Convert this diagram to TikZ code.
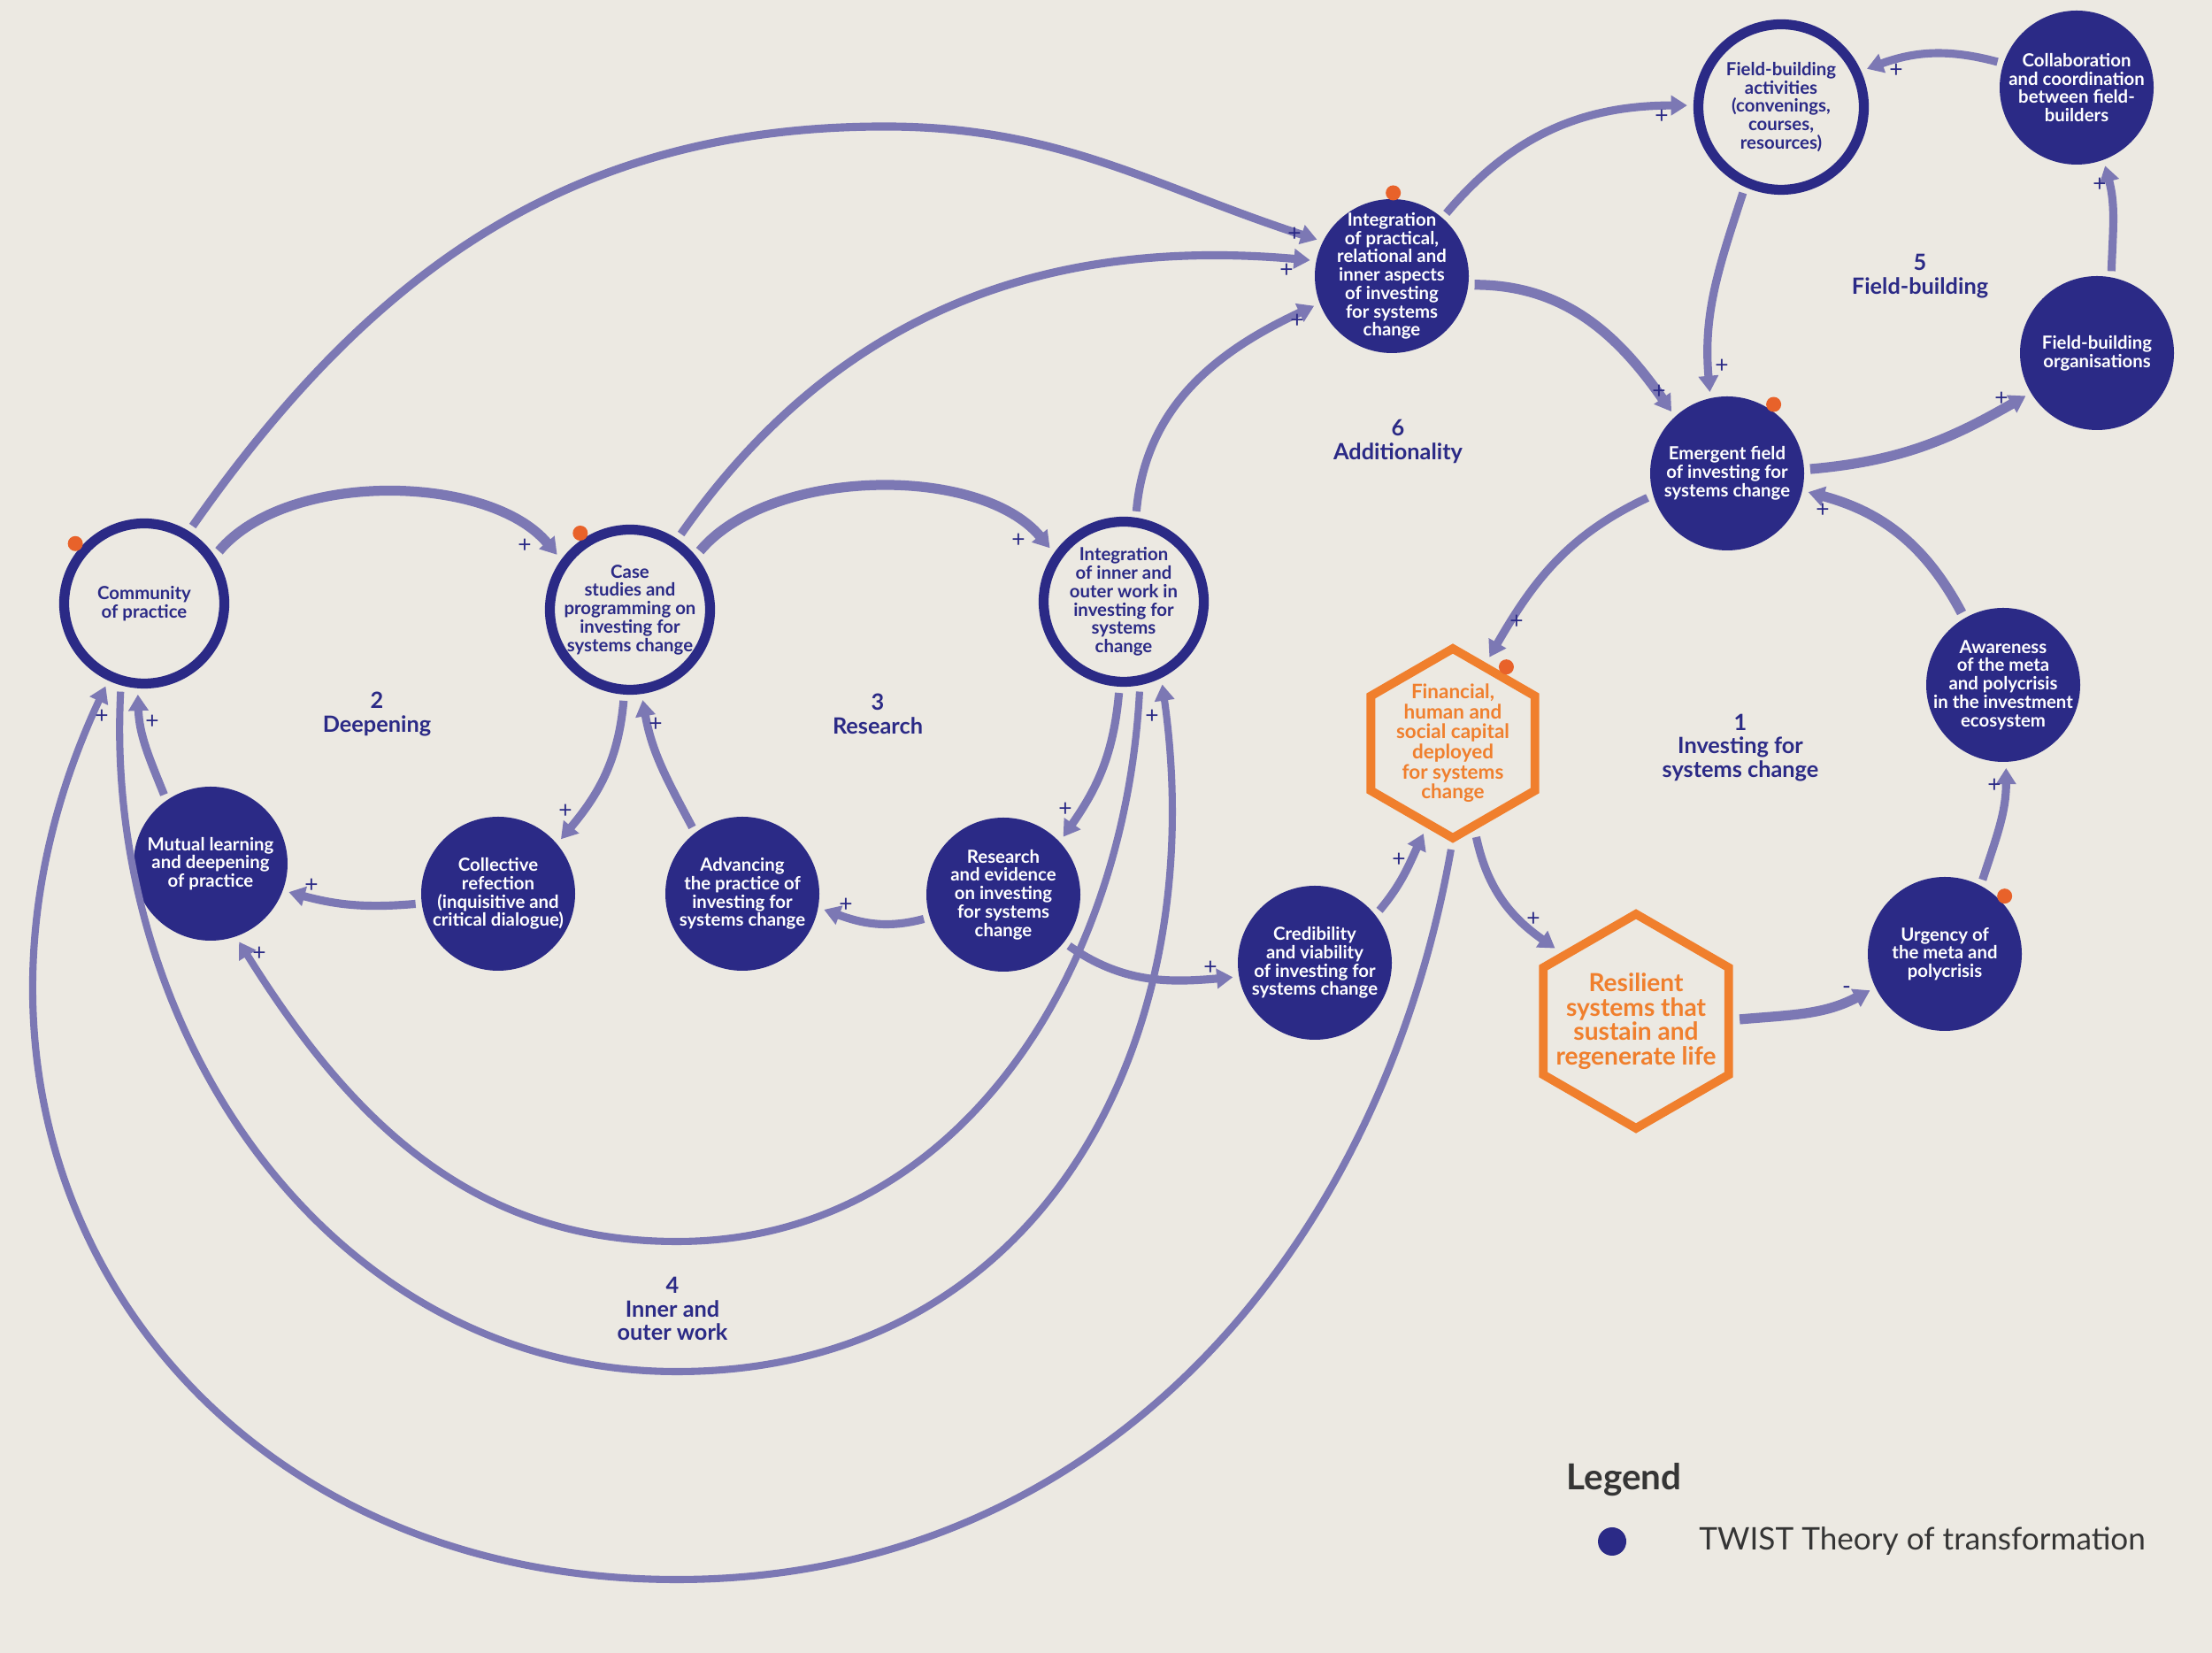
\documentclass[tikz,border=0pt]{standalone}
\usepackage{fontspec}
\setmainfont{Lato}
\usetikzlibrary{arrows.meta,shapes.geometric}
\definecolor{paper}{HTML}{ECE9E2}
\definecolor{navy}{HTML}{2B2A86}
\definecolor{link}{HTML}{7C78B4}
\definecolor{hexorange}{HTML}{F07F2D}
\definecolor{dotorange}{HTML}{E8622A}
\definecolor{legendgrey}{HTML}{353535}
\tikzset{
  ring/.style={circle, draw=navy, line width=3.2pt, fill=paper,
    minimum size=1.81cm, inner sep=0pt, outer sep=3.6pt},
  bubble/.style={circle, fill=navy, minimum size=1.74cm, inner sep=0pt, outer sep=2pt},
  hexnode/.style={regular polygon, regular polygon sides=6, shape border rotate=30,
    draw=hexorange, line width=2.8pt, inner sep=0pt, outer sep=3.5pt},
  ringtext/.style={align=center, text=navy, inner sep=0pt,
    font=\bfseries\fontsize{5.8}{5.9}\selectfont},
  bubbletext/.style={ringtext, text=white},
  hextext/.style={align=center, text=hexorange, inner sep=0pt,
    font=\bfseries\fontsize{6.4}{6.45}\selectfont},
  looplabel/.style={align=center, text=navy, font=\bfseries\fontsize{7.2}{7.6}\selectfont},
  sign/.style={text=navy, inner sep=0pt, font=\fontsize{7.5}{7.5}\selectfont},
  odot/.style={circle, fill=dotorange, minimum size=0.17cm, inner sep=0pt},
  arr/.style={-{Triangle[width=6.2pt,length=5.2pt]}, line width=2.6pt, draw=link},
  widearr/.style={arr, line width=3.2pt},
  looparr/.style={arr, line width=2.3pt}
}
\begin{document}
\begin{tikzpicture}
  \fill[paper] (0,0) rectangle (25,18.68);
  \useasboundingbox (0,0) rectangle (25,18.68);

  % nodes
  \node[ring] (comm) at (1.63,11.86) {};
  \node[ring] (case) at (7.12,11.79) {};
  \node[ring] (inner) at (12.70,11.88) {};
  \node[ring, minimum size=1.87cm] (fieldact) at (20.13,17.47) {};
  \node[bubble] (practical) at (15.73,15.56) {};
  \node[bubble] (collab) at (23.47,17.69) {};
  \node[bubble] (fborg) at (23.70,14.69) {};
  \node[bubble] (emerg) at (19.52,13.33) {};
  \node[bubble] (aware) at (22.64,10.94) {};
  \node[bubble] (urgency) at (21.98,7.90) {};
  \node[bubble] (cred) at (14.86,7.80) {};
  \node[bubble] (research) at (11.34,8.57) {};
  \node[bubble] (advancing) at (8.39,8.58) {};
  \node[bubble] (collective) at (5.63,8.58) {};
  \node[bubble] (mutual) at (2.38,8.92) {};
  \node[hexnode, minimum size=2.14cm] (fin) at (16.42,10.28) {};
  \node[hexnode, minimum size=2.42cm] (resil) at (18.49,7.14) {};

  % texts
  \node[ringtext] (commtext) at (comm) {Community\\of practice};
  \node[ringtext] (casetext) at (case) {Case\\studies and\\programming on\\investing for\\systems change};
  \node[ringtext] (innertext) at (inner) {Integration\\of inner and\\outer work in\\investing for\\systems\\change};
  \node[ringtext] (fieldacttext) at (fieldact) {Field-building\\activities\\(convenings,\\courses,\\resources)};
  \node[bubbletext] (practicaltext) at (practical) {Integration\\of practical,\\relational and\\inner aspects\\of investing\\for systems\\change};
  \node[bubbletext] (collabtext) at (collab) {Collaboration\\and coordination\\between field-\\builders};
  \node[bubbletext] (fborgtext) at (fborg) {Field-building\\organisations};
  \node[bubbletext] (emergtext) at (emerg) {Emergent field\\of investing for\\systems change};
  \node[bubbletext] (awaretext) at (aware) {Awareness\\of the meta\\and polycrisis\\in the investment\\ecosystem};
  \node[bubbletext] (urgencytext) at (urgency) {Urgency of\\the meta and\\polycrisis};
  \node[bubbletext] (credtext) at (cred) {Credibility\\and viability\\of investing for\\systems change};
  \node[bubbletext] (researchtext) at (research) {Research\\and evidence\\on investing\\for systems\\change};
  \node[bubbletext] (advancingtext) at (advancing) {Advancing\\the practice of\\investing for\\systems change};
  \node[bubbletext] (collectivetext) at (collective) {Collective\\refection\\(inquisitive and\\critical dialogue)};
  \node[bubbletext] (mutualtext) at (mutual) {Mutual learning\\and deepening\\of practice};
  \node[hextext] (fintext) at (fin) {Financial,\\human and\\social capital\\deployed\\for systems\\change};
  \node[hextext, font=\bfseries\fontsize{8}{7.8}\selectfont] (resiltext) at (resil) {Resilient\\systems that\\sustain and\\regenerate life};

  % orange markers
  \node[odot] (dotcomm) at (comm.139) {};
  \node[odot] (dotcase) at (case.123) {};
  \node[odot] (dotpractical) at (practical.89) {};
  \node[odot] (dotemerg) at (emerg.56) {};
  \node[odot] (dotfin) at (fin.55) {};
  \node[odot] (doturgency) at (urgency.44) {};

  % connectors
  \coordinate (arctop) at (10.00,17.25);
  \draw[widearr] (comm.35) to[out=50, in=130, looseness=0.8] (case.143);
  \draw[arr] (comm.58) to[out=55, in=180] (arctop) to[out=0, in=162] (practical.154);
  \draw[arr] (case.56) to[out=55, in=175] (practical.169);
  \draw[widearr] (case.40) to[out=50, in=130, looseness=0.8] (inner.144);
  \draw[arr] (inner.82) to[out=85, in=205] (practical.201);
  \draw[arr] (practical.49) to[out=50, in=180] (fieldact.179);
  \draw[widearr] (practical.-6) to[out=0, in=125] (emerg.132);
  \draw[arr] (fieldact.246) to[out=-108, in=95] (emerg.102);
  \draw[arr] (collab.162) to[out=165, in=20] (fieldact.24);
  \draw[arr] (fborg.80) to[out=88, in=-75] (collab.-70);
  \draw[widearr] (emerg.3) to[out=5, in=210] (fborg.211);
  \draw[arr] (emerg.197) to[out=205, in=60] (fin.67);
  \draw[widearr] (aware.120) to[out=118, in=-15] (emerg.-13);
  \draw[arr] (urgency.63) to[out=72, in=-90] (aware.-88);
  \draw[widearr] (resil.1) to[out=5, in=208] (urgency.206);
  \draw[arr] (fin.-76) to[out=-78, in=145] (resil.138);
  \draw[arr] (cred.39) to[out=50, in=-115] (fin.-108);
  \draw[arr] (research.-38) to[out=-35, in=185] (cred.190);
  \draw[arr] (research.197) to[out=195, in=-20] (advancing.-11);
  \draw[arr] (advancing.127) to[out=118, in=-80] (case.-82);
  \draw[arr] (case.-94) to[out=-95, in=50] (collective.41);
  \draw[arr] (collective.187) to[out=185, in=-15] (mutual.-20);
  \draw[arr] (mutual.124) to[out=112, in=-88] (comm.-94);
  \draw[arr] (inner.-93) to[out=-95, in=55] (research.44);

  % loop 4, inner and outer work
  \coordinate (innerlow) at (7.65,4.65);
  \coordinate (midlow) at (7.65,3.18);
  \coordinate (outerlow) at (7.65,0.83);
  \draw[looparr] (inner.-80) to[out=-93, in=0] (innerlow) to[out=180, in=-58] (mutual.-70);
  \draw[looparr] (comm.-105) to[out=-93, in=180] (midlow) to[out=0, in=-82, looseness=1.1] (inner.-65);
  \draw[looparr] (fin.-91) to[out=-100, in=0] (outerlow) to[out=180, in=-115, looseness=1.2] (comm.-115);

  % signs
  \node[sign] (s1) at (5.93,12.51) {+};
  \node[sign] (s2) at (14.63,16.03) {+};
  \node[sign] (s3) at (14.54,15.62) {+};
  \node[sign] (s4) at (11.51,12.57) {+};
  \node[sign] (s5) at (14.66,15.05) {+};
  \node[sign] (s6) at (18.78,17.36) {+};
  \node[sign] (s7) at (18.75,14.25) {+};
  \node[sign] (s8) at (19.46,14.54) {+};
  \node[sign] (s9) at (21.43,17.88) {+};
  \node[sign] (s10) at (23.73,16.59) {+};
  \node[sign] (s11) at (22.62,14.17) {+};
  \node[sign] (s12) at (17.14,11.65) {+};
  \node[sign] (s13) at (20.60,12.91) {+};
  \node[sign] (s14) at (22.54,9.80) {+};
  \node[sign] (s15) at (20.87,7.49) {-};
  \node[sign] (s16) at (17.33,8.29) {+};
  \node[sign] (s17) at (15.81,8.96) {+};
  \node[sign] (s18) at (13.68,7.74) {+};
  \node[sign] (s19) at (9.56,8.45) {+};
  \node[sign] (s20) at (7.41,10.49) {+};
  \node[sign] (s21) at (6.39,9.51) {+};
  \node[sign] (s22) at (3.52,8.67) {+};
  \node[sign] (s23) at (1.72,10.52) {+};
  \node[sign] (s24) at (12.04,9.53) {+};
  \node[sign] (s25) at (2.93,7.90) {+};
  \node[sign] (s26) at (13.02,10.58) {+};
  \node[sign] (s27) at (1.15,10.58) {+};

  % loop names
  \node[looplabel] (loopone) at (19.67,10.23) {1\\Investing for\\systems change};
  \node[looplabel] (looptwo) at (4.26,10.61) {2\\Deepening};
  \node[looplabel] (loopthree) at (9.92,10.61) {3\\Research};
  \node[looplabel] (loopfour) at (7.60,3.89) {4\\Inner and\\outer work};
  \node[looplabel] (loopfive) at (21.70,15.56) {5\\Field-building};
  \node[looplabel] (loopsix) at (15.80,13.69) {6\\Additionality};

  % legend
  \node[anchor=west, text=legendgrey, font=\bfseries\fontsize{11.5}{12}\selectfont] (legend) at (17.58,1.96) {Legend};
  \node[circle, fill=navy, minimum size=0.32cm, inner sep=0pt] (legenddot) at (18.22,1.26) {};
  \node[anchor=west, text=legendgrey, font=\fontsize{10}{12}\selectfont] (legendtext) at (19.08,1.26) {TWIST Theory of transformation};
\end{tikzpicture}
\end{document}
